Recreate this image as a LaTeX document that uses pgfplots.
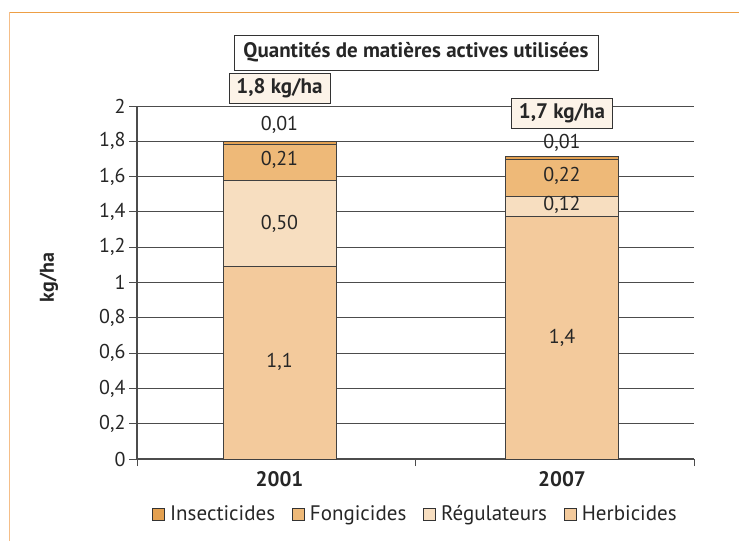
\documentclass[border=0pt]{standalone}
\usepackage{fontspec}
\setmainfont{PT Sans}
\usepackage{pgfplots}
\pgfplotsset{compat=1.18}
\definecolor{herb}{HTML}{F3CA9C}
\definecolor{reg}{HTML}{F7DEC0}
\definecolor{fong}{HTML}{EEB978}
\definecolor{ins}{HTML}{E3A050}
\definecolor{cream}{HTML}{FCF3E8}
\definecolor{frameT}{HTML}{ED9F45}
\definecolor{frameL}{HTML}{F5BE88}
\definecolor{txt}{HTML}{262626}
\newcommand{\fs}[1]{\fontsize{#1}{#1}\selectfont}
\begin{document}
\begin{tikzpicture}
\useasboundingbox (0pt,0pt) rectangle (739pt,541pt);
\draw[color=frameL, line width=1.3pt] (9.5pt,0pt) -- (9.5pt,528.5pt);
\draw[color=frameT, line width=1.3pt] (9.5pt,528.5pt) -- (739pt,528.5pt);
\begin{axis}[
  at={(137pt,82pt)}, anchor=south west,
  scale only axis, width=557pt, height=353pt,
  xmin=0, xmax=557, ymin=0, ymax=2,
  clip=false,
  ybar stacked, bar width=113pt,
  axis lines*=left,
  axis line style={draw=black!70, line width=1.1pt},
  ymajorgrids, major grid style={draw=black!70, line width=0.8pt},
  ytick={0,0.2,0.4,0.6,0.8,1,1.2,1.4,1.6,1.8,2},
  yticklabel style={font=\fs{20}, text=txt, /pgf/number format/.cd, use comma, fixed, precision=1, assume math mode=true},
  ytick style={draw=black!70, line width=0.8pt},
  tick align=outside, major tick length=8pt,
  xtick={142.5,425}, xticklabels={2001,2007},
  xticklabel style={font=\bfseries\fs{21}, text=txt, yshift=-1pt},
  xtick style={draw=none},
  extra x ticks={0,278,557}, extra x tick labels={},
  extra x tick style={grid=none, xtick style={draw=black!70, line width=0.8pt}, major tick length=7pt},
  ylabel={kg/ha}, ylabel style={font=\bfseries\fs{20}, text=txt, at={(axis description cs:-0.158,0.514)}, anchor=center},
  legend columns=4, reverse legend,
  legend style={draw=none, fill=none, at={(axis description cs:0.5,-0.156)}, anchor=center, font=\fs{21}, text=txt,
    /tikz/every odd column/.append style={column sep=3pt},
    /tikz/every even column/.append style={column sep=15pt}},
  legend image code/.code={\draw[#1, draw=black!80, line width=0.8pt] (0pt,-6pt) rectangle (12pt,6pt);},
]
\addplot[fill=herb, draw=black!75, line width=0.8pt] coordinates {(142.5,1.09) (425,1.375)};
\addplot[fill=reg, draw=black!75, line width=0.8pt] coordinates {(142.5,0.49) (425,0.111)};
\addplot[fill=fong, draw=black!75, line width=0.8pt] coordinates {(142.5,0.205) (425,0.214)};
\addplot[fill=ins, draw=black!75, line width=0.8pt] coordinates {(142.5,0.013) (425,0.013)};
\legend{Herbicides, Régulateurs, Fongicides, Insecticides}
\coordinate (a1) at (axis cs:142.5,1.892);
\coordinate (a2) at (axis cs:142.5,1.694);
\coordinate (a3) at (axis cs:142.5,1.331);
\coordinate (a4) at (axis cs:142.5,0.55);
\coordinate (b1) at (axis cs:425,1.79);
\coordinate (b2) at (axis cs:425,1.603);
\coordinate (b3) at (axis cs:425,1.439);
\coordinate (b4) at (axis cs:425,0.686);
\coordinate (ta) at (axis cs:142.5,2.102);
\coordinate (tb) at (axis cs:425,1.96);
\end{axis}
\foreach \p/\t in {a1/{0,01},a2/{0,21},a3/{0,50},a4/{1,1},b1/{0,01},b2/{0,22},b3/{0,12},b4/{1,4}}
  \node[font=\fs{20}, text=txt] at (\p) {\t};
\node[draw=black!80, fill=cream, line width=0.8pt, font=\bfseries\fs{21}, text=txt, minimum width=101pt, minimum height=30pt, inner sep=2pt] at (ta) {1,8 kg/ha};
\node[draw=black!80, fill=cream, line width=0.8pt, font=\bfseries\fs{21}, text=txt, minimum width=101pt, minimum height=30pt, inner sep=2pt] at (tb) {1,7 kg/ha};
\node[draw=black!80, fill=white, line width=0.8pt, font=\bfseries\fs{21}, text=txt, minimum width=364pt, minimum height=35pt, inner sep=2pt] at (416pt,488.5pt) {Quantités de matières actives utilisées};
\end{tikzpicture}
\end{document}
